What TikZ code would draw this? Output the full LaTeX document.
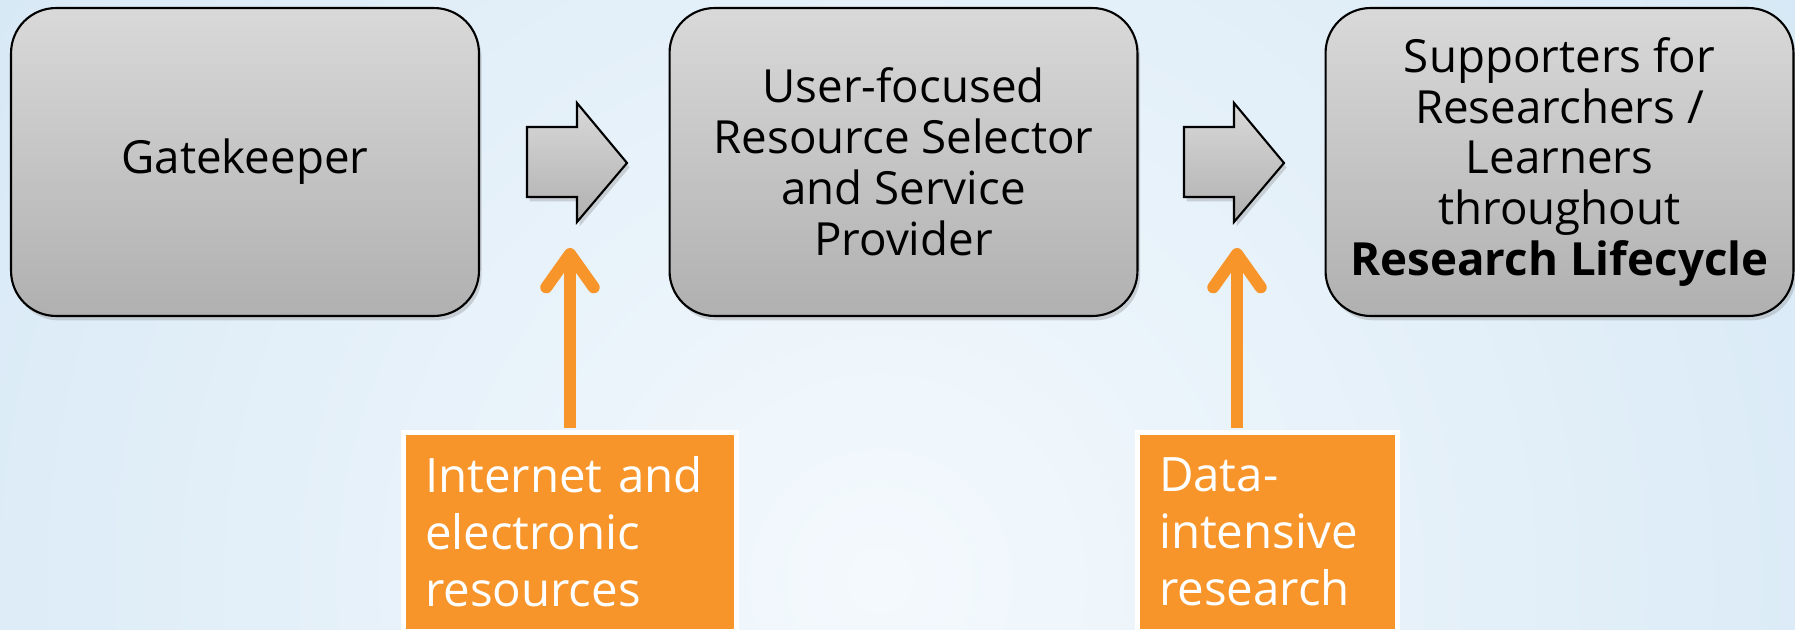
\documentclass[tikz,border=0pt]{standalone}
\usepackage{fontspec}
\setmainfont{Open Sans}
\usetikzlibrary{arrows.meta,shadows}
\definecolor{bgblue}{RGB}{212,231,245}
\definecolor{bglight}{RGB}{244,249,253}
\definecolor{boxtop}{RGB}{217,217,217}
\definecolor{boxbottom}{RGB}{176,176,176}
\definecolor{feedorange}{RGB}{247,149,42}
\tikzset{
    stage/.style={
        draw=black, line width=1.2pt, rounded corners=0.9cm,
        top color=boxtop, bottom color=boxbottom,
        minimum width=9.36cm, minimum height=6.16cm,
        align=center, font=\fontsize{26}{29}\selectfont,
        drop shadow={opacity=0.3, shadow xshift=1.5pt, shadow yshift=-2.5pt}
    },
    feed/.style={
        fill=feedorange, draw=white, line width=2.8pt, text=white,
        align=left, minimum height=3.98cm, inner sep=0pt,
        font=\fontsize{27}{32.4}\selectfont
    },
    feedarrow/.style={
        draw=feedorange, line width=6.8pt, shorten <=1.4pt,
        -{Straight Barb[length=19pt,width=27pt,round]}
    },
    blockarrow/.style={
        draw=black, line width=1.2pt, line join=miter,
        top color=boxtop, bottom color=boxbottom,
        drop shadow={opacity=0.3, shadow xshift=1.5pt, shadow yshift=-2.5pt}
    }
}
\begin{document}
\begin{tikzpicture}[x=0.02cm,y=-0.02cm]
\useasboundingbox (0,0) rectangle (1795,629);
% background
\fill[bgblue] (0,0) rectangle (1795,629);
\begin{scope}
\clip (0,0) rectangle (1795,629);
\shade[inner color=bglight, outer color=bgblue] (880,580) circle (1200);
\end{scope}
% stages
\node[stage] (gate) at (245,162) {Gatekeeper};
\node[stage] (selector) at (903.5,162) {User-focused\\Resource Selector\\and Service\\Provider};
\node[stage] (support) at (1559.5,162) {Supporters for\\Researchers /\\Learners\\throughout\\\textbf{Research Lifecycle}};
% block arrows
\draw[blockarrow] (527,127)--(577,127)--(577,103)--(627,163)--(577,222)--(577,197)--(527,197)--cycle;
\draw[blockarrow] (1184,127)--(1234,127)--(1234,103)--(1284,163)--(1234,222)--(1234,197)--(1184,197)--cycle;
% drivers
\node[feed, text width=5.8cm, minimum width=6.66cm] (internet) at (570,532) {Internet and\\electronic\\resources};
\node[feed, text width=4.34cm, minimum width=5.2cm] (data) at (1267.5,532) {Data-\\intensive\\research};
\coordinate (tip1) at (570,248);
\coordinate (tip2) at (1237,248);
\draw[feedarrow] (internet.north) -- (tip1);
\draw[feedarrow] (data.north -| tip2) -- (tip2);
\end{tikzpicture}
\end{document}
